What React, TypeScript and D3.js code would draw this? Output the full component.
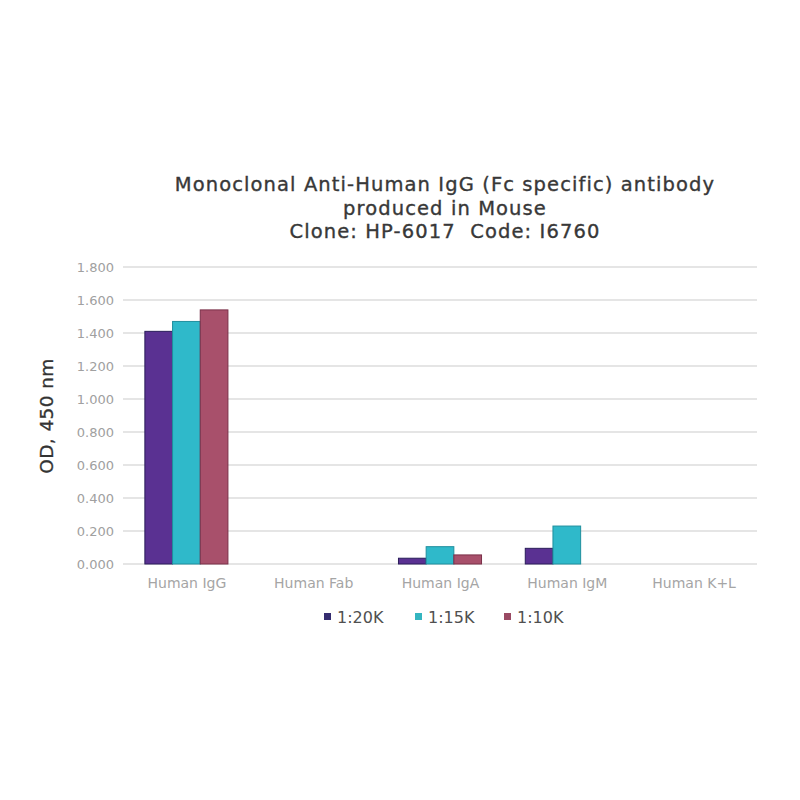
import React from "react";
import * as d3 from "d3";

const categories = ["Human IgG", "Human Fab", "Human IgA", "Human IgM", "Human K+L"];
const seriesNames = ["1:20K", "1:15K", "1:10K"];
const dil20K = [1.41, 0, 0.035, 0.095, 0];
const dil15K = [1.47, 0, 0.105, 0.23, 0];
const dil10K = [1.54, 0, 0.055, 0, 0];
const yTicks = [0, 0.2, 0.4, 0.6, 0.8, 1.0, 1.2, 1.4, 1.6, 1.8];
const titleLines = [
  "Monoclonal Anti-Human IgG (Fc specific) antibody",
  "produced in Mouse",
  "Clone: HP-6017  Code: I6760",
];

const colors = ["#5a3192", "#2fb9ca", "#a8506b"];
const strokes = ["#2a1d5a", "#1f8f9e", "#7a3049"];
const legendColors = ["#352d70", "#34b5c0", "#9a4a64"];

export default function App() {
  const W = 800, H = 800;
  const left = 123, right = 757, top = 267, bottom = 564;
  const series = [dil20K, dil15K, dil10K];
  const x = d3.scaleBand<string>().domain(categories).range([left, right]).paddingInner(0).paddingOuter(0);
  const inner = d3.scaleBand<string>().domain(seriesNames).range([0, x.bandwidth() * 0.655]).padding(0);
  const groupOffset = (x.bandwidth() - x.bandwidth() * 0.655) / 2;
  const y = d3.scaleLinear().domain([0, 1.8]).range([bottom, top]);
  const fmt = d3.format(".3f");
  const font = "'DejaVu Sans', Verdana, sans-serif";

  const legendX = [324, 415, 504];

  return (
    <svg width={W} height={H} style={{ position: "absolute", left: 0, top: 0, background: "#fff" }} fontFamily={font}>
      <rect width={W} height={H} fill="#fff" />
      {titleLines.map((t, i) => (
        <text key={i} x={445} y={191 + i * 23.5} textAnchor="middle" fontSize={19.5} letterSpacing={1.1} fill="#383838" stroke="#383838" strokeWidth={0.35} style={{ whiteSpace: "pre" }}>
          {t}
        </text>
      ))}
      {yTicks.map((t) => (
        <g key={t}>
          <line x1={left} x2={right} y1={y(t)} y2={y(t)} stroke="#dcdcdc" strokeWidth={1.5} />
          <text x={114} y={y(t) + 4.5} textAnchor="end" fontSize={13} fill="#a0a0a0">
            {fmt(t)}
          </text>
        </g>
      ))}
      <text transform={`translate(53,${416}) rotate(-90)`} textAnchor="middle" fontSize={18.5} letterSpacing={0.4} fill="#333" stroke="#333" strokeWidth={0.3}>
        OD, 450 nm
      </text>
      {categories.map((c, ci) => (
        <g key={c}>
          {series.map((vals, si) => {
            const v = vals[ci];
            if (v <= 0) return null;
            const bx = (x(c) as number) + groupOffset + (inner(seriesNames[si]) as number);
            return (
              <rect
                key={si}
                x={bx}
                y={y(v)}
                width={inner.bandwidth()}
                height={bottom - y(v)}
                fill={colors[si]}
                stroke={strokes[si]}
                strokeWidth={1}
              />
            );
          })}
          <text x={(x(c) as number) + x.bandwidth() / 2 + 0.5} y={588} textAnchor="middle" fontSize={14} fill="#a5a5a5">
            {c}
          </text>
        </g>
      ))}
      {seriesNames.map((s, i) => (
        <g key={s}>
          <rect x={legendX[i]} y={613} width={7} height={7} fill={legendColors[i]} />
          <text x={legendX[i] + 13} y={622.5} fontSize={16} fill="#505050">
            {s}
          </text>
        </g>
      ))}
    </svg>
  );
}
